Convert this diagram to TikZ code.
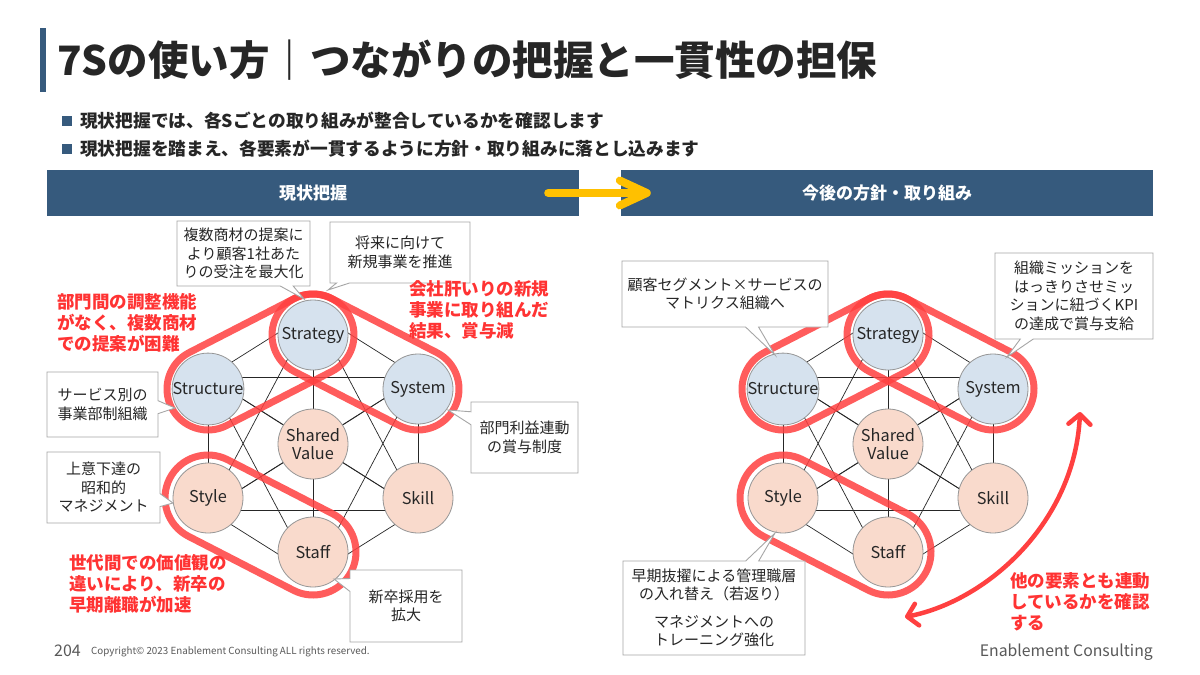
\documentclass[tikz,border=0pt]{standalone}
\usepackage{fontspec}
\setmainfont{Noto Sans CJK JP}
\usetikzlibrary{calc,shapes.callouts,arrows.meta,backgrounds}
\definecolor{hdr}{RGB}{54,90,125}
\definecolor{titlegray}{RGB}{38,38,38}
\definecolor{hardfill}{RGB}{214,226,238}
\definecolor{softfill}{RGB}{249,218,204}
\definecolor{circgray}{RGB}{150,150,150}
\definecolor{notegray}{RGB}{166,166,166}
\definecolor{loopred}{RGB}{255,64,64}
\definecolor{textred}{RGB}{255,51,51}
\definecolor{arrowyellow}{RGB}{255,192,0}
\definecolor{footgray}{RGB}{89,89,89}

\newcommand\drawcapsule[3]{%
  \draw[loopline] let \p1=(#1.center), \p2=(#2.center), \n1={atan2(\y2-\y1,\x2-\x1)} in
    ($(\p1)+(\n1+90:#3)$) -- ($(\p2)+(\n1+90:#3)$)
    arc[start angle=\n1+90, delta angle=-180, radius=#3]
    -- ($(\p1)+(\n1-90:#3)$)
    arc[start angle=\n1-90, delta angle=-180, radius=#3] -- cycle;}

\newcommand\sevens[2]{%
  \node[hard] (#1strat) at (#2,335) {Strategy};
  \node[hard] (#1stru) at (#2-105,389) {Structure};
  \node[hard] (#1sys) at (#2+105,389) {System};
  \node[soft] (#1sv) at (#2,444) {Shared\\Value};
  \node[soft] (#1sty) at (#2-105,498) {Style};
  \node[soft] (#1skl) at (#2+105,498) {Skill};
  \node[soft] (#1staff) at (#2,552) {Staff};
  \coordinate (#1stratl) at ($(#1strat)+(0,-24)$);
  \coordinate (#1strul) at ($(#1stru)+(0,-12)$);
  \coordinate (#1sysl) at ($(#1sys)+(0,-12)$);
  \coordinate (#1svl) at (#1sv);
  \coordinate (#1styl) at ($(#1sty)+(0,12)$);
  \coordinate (#1skll) at ($(#1skl)+(0,12)$);
  \coordinate (#1staffl) at ($(#1staff)+(0,24)$);
  \begin{scope}[on background layer]
    \foreach \a/\b in {strat/stru, strat/sys, strat/sv, strat/sty, strat/skl, strat/staff,
                       stru/sys, stru/sv, stru/sty, stru/skl, stru/staff,
                       sys/sv, sys/sty, sys/skl, sys/staff,
                       sv/sty, sv/skl, sv/staff, sty/skl, sty/staff, skl/staff}
      \draw[edge] (#1\a l) -- (#1\b l);
  \end{scope}
  \drawcapsule{#1stru}{#1strat}{41pt}
  \drawcapsule{#1strat}{#1sys}{41pt}
  \drawcapsule{#1sty}{#1staff}{43pt}
}

\begin{document}
\begin{tikzpicture}[x=1pt,y=-1pt,
  hard/.style={circle, minimum size=70pt, inner sep=0pt, draw=circgray, line width=0.8pt,
    fill=hardfill, font=\fontsize{16.3}{18}\selectfont, align=center, text=black!85},
  soft/.style={hard, fill=softfill},
  edge/.style={draw=black!85, line width=0.7pt},
  loopline/.style={draw=loopred, line width=7pt, draw opacity=0.85, line join=round},
  note/.style={rectangle callout, draw=notegray, fill=white, line width=0.9pt, align=center,
    font=\fontsize{15}{18.5}\selectfont, inner sep=0pt, callout pointer width=13pt, text=black!85},
  redtxt/.style={anchor=north west, inner sep=0pt, align=left, text=textred,
    font=\bfseries\fontsize{17.5}{21}\selectfont},
  hdrbox/.style={fill=hdr, text=white, minimum width=532pt, minimum height=46pt, inner sep=0pt,
    font=\bfseries\fontsize{17}{20}\selectfont},
  bsq/.style={fill=hdr, minimum size=10pt, inner sep=0pt},
  bullettxt/.style={anchor=west, inner sep=0pt, text=titlegray, font=\bfseries\fontsize{17.7}{20}\selectfont},
  yarrow/.style={draw=arrowyellow, line width=8pt, line cap=round, line join=round},
  foot/.style={inner sep=0pt, text=footgray},
]
\useasboundingbox (0,0) rectangle (1200,675);
\begin{scope}[on background layer]
  \fill[white] (0,0) rectangle (1200,675);
\end{scope}

% title
\fill[hdr] (40,28) rectangle (46,92);
\node[anchor=west, inner sep=0pt, text=titlegray, font=\bfseries\fontsize{40.5}{44}\selectfont] (title) at (57,60)
  {7Sの使い方｜つながりの把握と一貫性の担保};

% bullets
\node[bsq] (bq1) at (67,121) {};
\node[bullettxt] (bt1) at (80,121) {現状把握では、各Sごとの取り組みが整合しているかを確認します};
\node[bsq] (bq2) at (67,149) {};
\node[bullettxt] (bt2) at (80,149) {現状把握を踏まえ、各要素が一貫するように方針・取り組みに落とし込みます};

% header bars
\node[hdrbox] (h1) at (313,193) {現状把握};
\node[hdrbox] (h2) at (887,193) {今後の方針・取り組み};
\coordinate (ya) at ($(h1.east)+(-31,0)$);
\coordinate (yb) at ($(h2.west)+(26,0)$);
\draw[yarrow] (ya) -- ($(yb)+(-3,0)$);
\draw[yarrow] ($(yb)+(-27,-12.5)$) -- (yb) -- ($(yb)+(-27,12.5)$);

% diagrams
\sevens{L}{313}
\sevens{R}{888}

% left callouts
\node[note, minimum width=133pt, minimum height=65pt, callout absolute pointer={($(Lstrat)+(-9,-36)$)}] (n1) at (243.5,253.5)
  {複数商材の提案に\\より顧客1社あた\\りの受注を最大化};
\node[note, minimum width=140pt, minimum height=61pt, callout absolute pointer={($(Lstrat)+(15,-45)$)}] (n2) at (400,252.5)
  {将来に向けて\\新規事業を推進};
\node[note, minimum width=111pt, minimum height=65pt, callout absolute pointer={($(Lstru)+(-33,19)$)}] (n3) at (102.5,404.5)
  {サービス別の\\事業部制組織};
\node[note, minimum width=113pt, minimum height=71pt, callout absolute pointer={($(Lsty)+(-35,5)$)}] (n4) at (103.5,487.5)
  {上意下達の\\昭和的\\マネジメント};
\node[note, minimum width=107pt, minimum height=71pt, callout absolute pointer={($(Lsys)+(30,21)$)}] (n5) at (524.5,437.5)
  {部門利益連動\\の賞与制度};
\node[note, minimum width=112pt, minimum height=72pt, callout absolute pointer={($(Lstaff)+(21,27)$)}] (n6) at (406,606)
  {新卒採用を\\拡大};

% right callouts
\node[note, minimum width=206pt, minimum height=66pt, callout absolute pointer={($(Rstru)+(-8,-34)$)}] (n7) at (725,294)
  {顧客セグメント×サービスの\\マトリクス組織へ};
\node[note, minimum width=158pt, minimum height=86pt, callout absolute pointer={($(Rsys)+(14,-32)$)}] (n8) at (1074,296)
  {組織ミッションを\\はっきりさせミッ\\ションに紐づくKPI\\の達成で賞与支給};
\node[note, minimum width=182pt, minimum height=94pt, callout absolute pointer={($(Rsty)+(-8,35)$)}] (n9) at (714,608)
  {早期抜擢による管理職層\\の入れ替え（若返り）\\[9pt]マネジメントへの\\トレーニング強化};

% red texts
\node[redtxt] (t1) at (57,293) {部門間の調整機能\\がなく、複数商材\\での提案が困難};
\node[redtxt] (t2) at (409,280) {会社肝いりの新規\\事業に取り組んだ\\結果、賞与減};
\node[redtxt] (t3) at (69,554) {世代間での価値観の\\違いにより、新卒の\\早期離職が加速};
\node[redtxt] (t4) at (1010,572) {他の要素とも連動\\しているかを確認\\する};

% curved double arrow
\coordinate (ca) at (905,617);
\coordinate (cb) at (1080,412);
\draw[draw=loopred, line width=4.5pt, {Straight Barb[length=10pt,width=22pt,round]}-{Straight Barb[length=10pt,width=22pt,round]}]
  (ca) .. controls (990,600) and (1075,520) .. (cb);

% footer
\node[foot, anchor=west, font=\fontsize{16}{18}\selectfont] (pg) at (54,651) {204};
\node[foot, anchor=west, font=\fontsize{9.8}{11}\selectfont] (cr) at (91,652) {Copyright© 2023 Enablement Consulting ALL rights reserved.};
\node[foot, anchor=east, font=\fontsize{15.8}{18}\selectfont] (ec) at (1153,652) {Enablement Consulting};
\end{tikzpicture}
\end{document}
